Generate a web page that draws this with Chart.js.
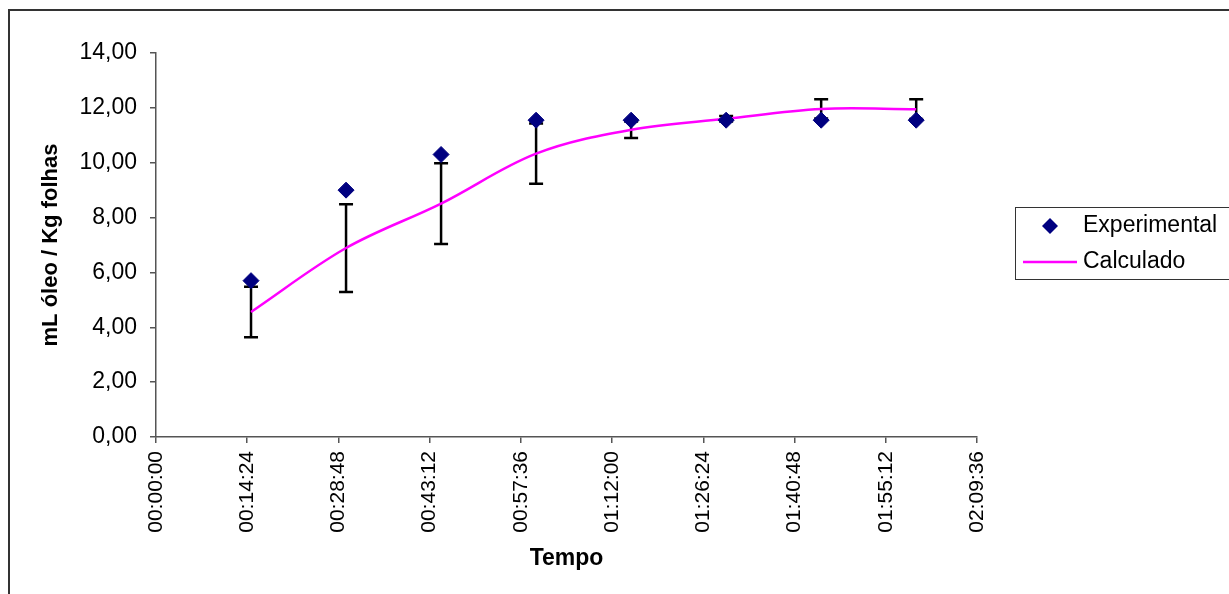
<!DOCTYPE html>
<html>
<head>
<meta charset="utf-8">
<script src="https://cdn.jsdelivr.net/npm/chart.js@4"></script>
<style>
  html, body { margin: 0; padding: 0; background: #fff; }
</style>
</head>
<body>
<canvas id="chart" width="1229" height="594"></canvas>
<script>
// tempo em minutos
const tempos = [15, 30, 45, 60, 75, 90, 105, 120];
const experimental = [5.7, 9.0, 10.3, 11.55, 11.55, 11.55, 11.55, 11.55];
const calculado = [4.56, 6.89, 8.51, 10.33, 11.2, 11.6, 11.96, 11.95];
const erroCalculado = [0.92, 1.6, 1.47, 1.1, 0.3, 0.1, 0.35, 0.36];
const xTickValues = [0, 14.4, 28.8, 43.2, 57.6, 72, 86.4, 100.8, 115.2, 129.6];
const xTickLabels = ['00:00:00', '00:14:24', '00:28:48', '00:43:12', '00:57:36',
  '01:12:00', '01:26:24', '01:40:48', '01:55:12', '02:09:36'];

const FONT = "'Liberation Sans', Arial, sans-serif";
const AXIS_COLOR = '#555555';

// barras de erro desenhadas sobre a serie calculada
const errorBars = {
  id: 'errorBars',
  beforeDatasetsDraw(chart) {
    const { ctx, scales: { x, y } } = chart;
    ctx.save();
    ctx.strokeStyle = '#000000';
    ctx.lineWidth = 2.5;
    tempos.forEach((t, i) => {
      const px = x.getPixelForValue(t);
      const top = y.getPixelForValue(calculado[i] + erroCalculado[i]);
      const bot = y.getPixelForValue(calculado[i] - erroCalculado[i]);
      ctx.beginPath();
      ctx.moveTo(px, top);
      ctx.lineTo(px, bot);
      ctx.moveTo(px - 7, top);
      ctx.lineTo(px + 7, top);
      ctx.moveTo(px - 7, bot);
      ctx.lineTo(px + 7, bot);
      ctx.stroke();
    });
    ctx.restore();
  }
};

// moldura e legenda no estilo do Excel
const frameAndLegend = {
  id: 'frameAndLegend',
  afterDraw(chart) {
    const ctx = chart.ctx;
    const ds = chart.data.datasets;
    ctx.save();
    ctx.strokeStyle = '#333333';
    ctx.lineWidth = 2;
    ctx.strokeRect(9, 10, 1400, 800);

    ctx.lineWidth = 1;
    ctx.strokeStyle = '#333333';
    ctx.strokeRect(1015.5, 207.5, 300, 72);

    // diamante
    ctx.fillStyle = ds[0].backgroundColor;
    ctx.beginPath();
    ctx.moveTo(1050 - 8, 226);
    ctx.lineTo(1050, 226 - 8);
    ctx.lineTo(1050 + 8, 226);
    ctx.lineTo(1050, 226 + 8);
    ctx.closePath();
    ctx.fill();

    // linha
    ctx.strokeStyle = ds[1].borderColor;
    ctx.lineWidth = 2.5;
    ctx.beginPath();
    ctx.moveTo(1023, 262);
    ctx.lineTo(1077, 262);
    ctx.stroke();

    ctx.fillStyle = '#000000';
    ctx.font = '23px ' + FONT;
    ctx.textBaseline = 'middle';
    ctx.textAlign = 'left';
    ctx.fillText(ds[0].label, 1083, 226);
    ctx.fillText(ds[1].label, 1083, 262);
    ctx.restore();
  }
};

const ctx = document.getElementById('chart').getContext('2d');

new Chart(ctx, {
  type: 'scatter',
  data: {
    datasets: [
      {
        label: 'Experimental',
        data: tempos.map((t, i) => ({ x: t, y: experimental[i] })),
        showLine: false,
        pointStyle: 'rectRot',
        pointRadius: 8,
        pointHoverRadius: 8,
        backgroundColor: '#000080',
        borderColor: '#000080',
        borderWidth: 1,
        order: 0
      },
      {
        label: 'Calculado',
        data: tempos.map((t, i) => ({ x: t, y: calculado[i] })),
        showLine: true,
        tension: 0.35,
        pointRadius: 0,
        borderColor: '#FF00FF',
        backgroundColor: '#FF00FF',
        borderWidth: 2.5,
        order: 1
      }
    ]
  },
  options: {
    responsive: false,
    animation: false,
    events: [],
    layout: {
      padding: { left: 0, top: 53, right: 252, bottom: 0 }
    },
    plugins: {
      legend: { display: false },
      tooltip: { enabled: false }
    },
    scales: {
      x: {
        type: 'linear',
        min: 0,
        max: 129.6,
        afterBuildTicks: (scale) => {
          scale.ticks = xTickValues.map(v => ({ value: v }));
        },
        afterFit: (scale) => { scale.height = 157; },
        border: { display: true, color: AXIS_COLOR, width: 1.5 },
        grid: { display: true, drawOnChartArea: false, drawTicks: true, tickLength: 6, color: AXIS_COLOR, lineWidth: 1.5 },
        ticks: {
          autoSkip: false,
          minRotation: 90,
          maxRotation: 90,
          padding: 8,
          color: '#000000',
          font: { family: FONT, size: 21 },
          callback: (value, index) => xTickLabels[index]
        },
        title: {
          display: true,
          text: 'Tempo',
          color: '#000000',
          font: { family: FONT, size: 23, weight: 'bold' },
          padding: { top: 0, bottom: 22 }
        }
      },
      y: {
        min: 0,
        max: 14,
        afterFit: (scale) => { scale.width = 156; },
        border: { display: true, color: AXIS_COLOR, width: 1.5 },
        grid: { display: true, drawOnChartArea: false, drawTicks: true, tickLength: 6, color: AXIS_COLOR, lineWidth: 1.5 },
        ticks: {
          stepSize: 2,
          padding: 13,
          color: '#000000',
          font: { family: FONT, size: 23 },
          callback: (v) => v.toFixed(2).replace('.', ',')
        },
        title: {
          display: true,
          text: 'mL óleo / Kg folhas',
          color: '#000000',
          font: { family: FONT, size: 22, weight: 'bold' },
          padding: { top: 38, bottom: 0 }
        }
      }
    }
  },
  plugins: [errorBars, frameAndLegend]
});
</script>
</body>
</html>
